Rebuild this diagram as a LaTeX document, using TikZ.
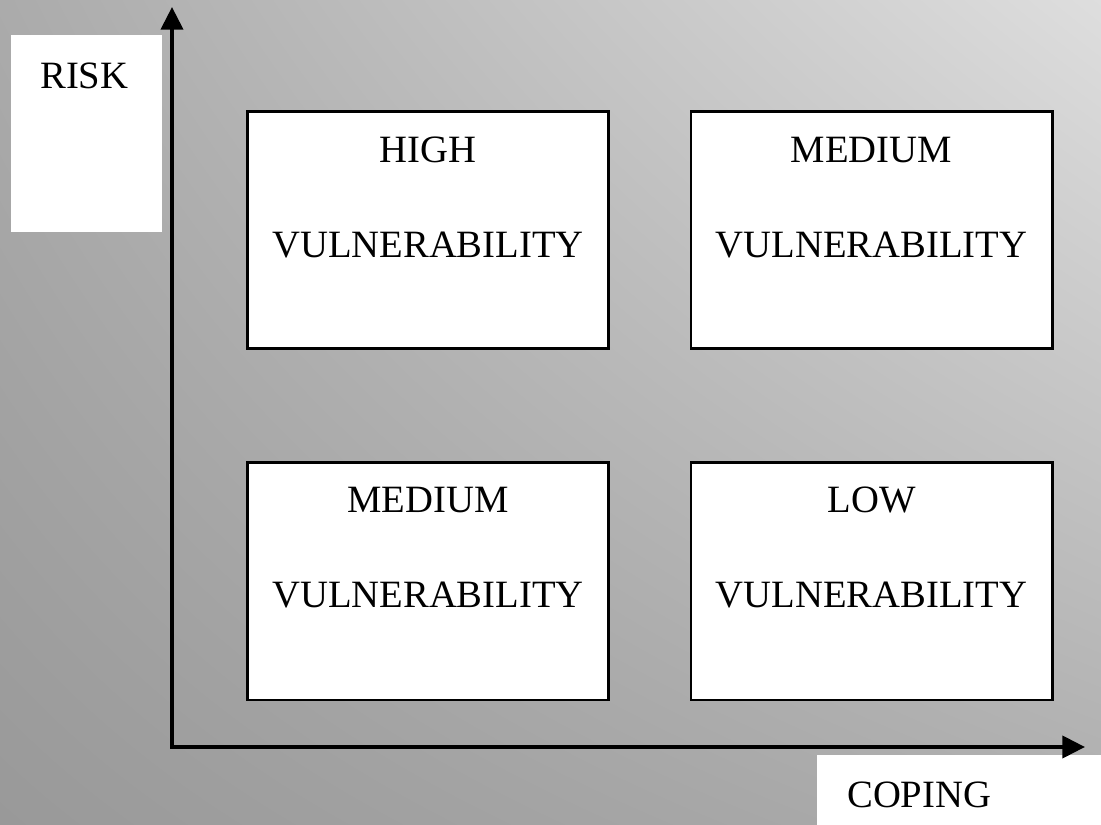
\documentclass[tikz,border=0pt]{standalone}
\usepackage{fontspec}
\setmainfont{Liberation Serif}
\usetikzlibrary{arrows.meta, shadings}
\begin{document}
\begin{tikzpicture}[x = 0.75pt, y = 0.75pt,
    quad/.style = {draw, line width=2pt, fill=white, minimum width=271pt, minimum height=178pt, inner sep=0pt},
    tag/.style = {fill=white, anchor=north west, inner sep=0pt},
    word/.style = {font=\fontsize{29pt}{71.25pt}\selectfont, align=center, inner sep=0pt},
    axis/.style = {line width=3pt, {Triangle[length=17pt, width=16.5pt]}-{Triangle[length=17pt, width=16.5pt]}}]
    \useasboundingbox (0, 0) rectangle (1101, 825);
    \shade[upper left=black!33, upper right=black!13, lower left=black!40, lower right=black!32] (0, 0) rectangle (1101, 825);
    \node[tag, minimum width=113.25pt, minimum height=147.75pt] (riskbox) at (11, 790) {};
    \node[word, anchor=north west] (risk) at (40, 762) {RISK};
    \node[tag, minimum width=213pt, minimum height=52.5pt] (copbox) at (817, 70) {};
    \node[word, anchor=north west] (coping) at (847, 43) {COPING};
    \coordinate (origin) at (172, 78);
    \coordinate (ytip) at (172, 818);
    \coordinate (xtip) at (1085, 78);
    \draw[axis] (ytip) -- (origin) -- (xtip);
    \node[quad] (hi) at (428, 595) {};
    \node[quad] (medtop) at (871.5, 595) {};
    \node[quad] (medlow) at (428, 243.5) {};
    \node[quad] (lo) at (871.5, 243.5) {};
    \node[word, anchor=north] (hiTxt) at (428, 688) {HIGH\\VULNERABILITY};
    \node[word, anchor=north] (medtopTxt) at (871.5, 688) {MEDIUM\\VULNERABILITY};
    \node[word, anchor=north] (medlowTxt) at (428, 338) {MEDIUM\\VULNERABILITY};
    \node[word, anchor=north] (loTxt) at (871.5, 338) {LOW\\VULNERABILITY};
\end{tikzpicture}
\end{document}
